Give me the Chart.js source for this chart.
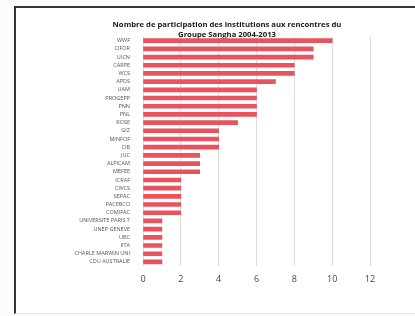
<!DOCTYPE html>
<html>
<head>
  <script src="https://cdn.jsdelivr.net/npm/chart.js@4/dist/chart.umd.min.js"></script>
  <style>
    body { margin: 0; background: #fbfbfa; overflow: hidden; }
    #frame {
      position: absolute; left: 14px; top: 6px; width: 420px; height: 305px;
      background: #fff; border-left: 2px solid #333; border-top: 2px solid #333;
      border-bottom: 1px solid #e6e6e6;
    }
    #wrap { position: absolute; left: 0; top: 0; width: 438px; height: 316px; }
  </style>
</head>
<body>
  <div id="frame"></div>
  <div id="wrap"><canvas id="graph"></canvas></div>

  <script>
    // institutions, top to bottom as in the picture
    var institutions = ['WWF', 'CIFOR', 'UICN', 'CARPE', 'WCS', 'APDS', 'UAM', 'PROGEPP', 'PNN', 'PNL',
      'ROSE', 'GIZ', 'MINFOF', 'CIB', 'JUC', 'ALPICAM', 'MEFEE', 'ICRAF', 'CWCS', 'SEPAC',
      'PACEBCO', 'COMIFAC', 'UNIVERSITE PARIS 7', 'UNEP GENEVE', 'UBC', 'IITA',
      'CHARLE MARWIN UNI', 'CDU AUSTRALIE'];
    var participations = [10, 9, 9, 8, 8, 7, 6, 6, 6, 6,
      5, 4, 4, 4, 3, 3, 3, 2, 2, 2,
      2, 2, 1, 1, 1, 1,
      1, 1];
    var titleLines = ['Nombre de participation des institutions aux rencontres du', 'Groupe Sangha 2004-2013'];
    var xMax = 12;

    var ctx = document.getElementById('graph');
    var chart = new Chart(ctx, {
      type: 'bar',
      data: {
        labels: institutions,
        datasets: [{
          data: participations,
          backgroundColor: '#e8535d',
          barThickness: 4
        }]
      },
      options: {
        indexAxis: 'y',
        responsive: true,
        maintainAspectRatio: false,
        animation: false,
        layout: { padding: { left: 16, right: 0, top: 0, bottom: 0 } },
        plugins: {
          legend: { display: false },
          tooltip: { enabled: false },
          title: {
            display: true,
            text: titleLines,
            color: '#1a1a1a',
            font: { family: 'Open Sans', size: 7.7, weight: 'bold', lineHeight: 1.4 },
            padding: { top: 19, bottom: -4 }
          }
        },
        scales: {
          x: {
            min: 0, max: xMax,
            ticks: { stepSize: 2, color: '#444', font: { family: 'Open Sans', size: 9 }, padding: 8 },
            grid: { color: '#dcdcdc', drawTicks: false },
            border: { display: false },
            afterFit: function(s) { s.height = 50; }
          },
          y: {
            ticks: { color: '#555', font: { family: 'Open Sans', size: 5.5 }, padding: 5, autoSkip: false },
            grid: { display: false },
            border: { display: false },
            afterFit: function(s) { s.width = 127; }
          },
          yRight: {
            position: 'right',
            ticks: { display: false },
            grid: { display: false },
            border: { display: false },
            afterFit: function(s) { s.width = 68; }
          }
        }
      }
    });
  </script>
</body>
</html>
